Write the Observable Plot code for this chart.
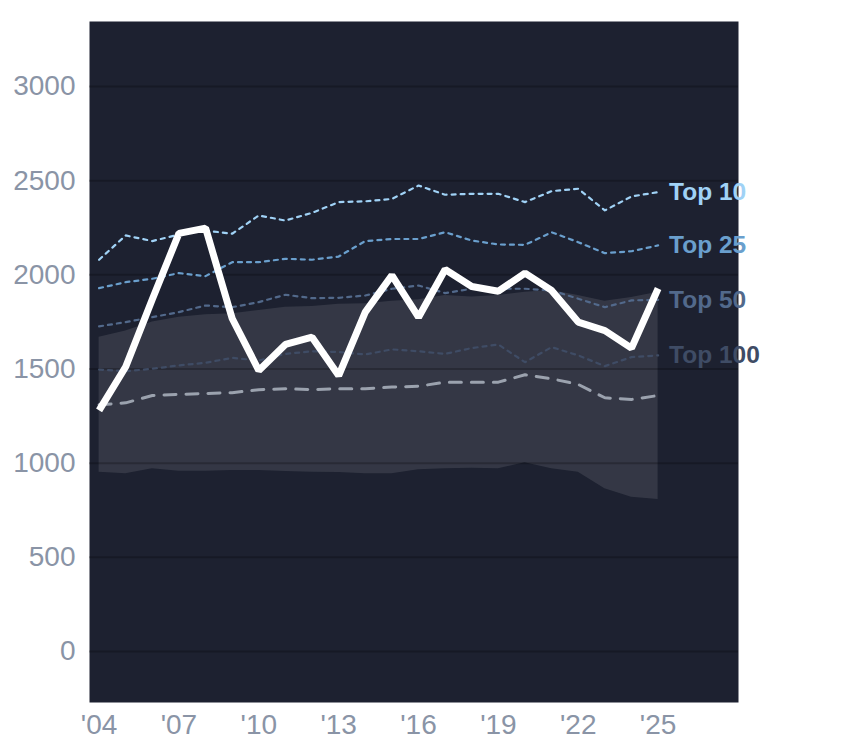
<!DOCTYPE html>
<html>
<head>
<meta charset="utf-8">
<script src="https://cdn.jsdelivr.net/npm/d3@7"></script>
<script src="https://cdn.jsdelivr.net/npm/@observablehq/plot@0.6"></script>
<style>
  html, body { margin: 0; padding: 0; background: #ffffff; }
  #chart svg { display: block; }
</style>
</head>
<body>
<div id="chart"></div>
<script>
const years = d3.range(2004, 2026);
const highlight = [1280, 1512, 1870, 2220, 2248, 1768, 1492, 1630, 1669, 1465, 1802, 1997, 1775, 2028, 1938, 1913, 2009, 1917, 1749, 1704, 1611, 1927];
const top10 = [2080, 2209, 2179, 2214, 2235, 2218, 2315, 2288, 2329, 2386, 2390, 2403, 2474, 2425, 2430, 2430, 2386, 2444, 2457, 2342, 2416, 2439];
const top25 = [1929, 1961, 1979, 2009, 1993, 2067, 2067, 2085, 2080, 2097, 2179, 2190, 2190, 2226, 2182, 2161, 2159, 2226, 2173, 2115, 2125, 2156];
const top50 = [1726, 1749, 1775, 1802, 1837, 1828, 1855, 1894, 1876, 1878, 1890, 1926, 1943, 1903, 1926, 1926, 1926, 1917, 1873, 1828, 1864, 1867];
const top100 = [1497, 1488, 1501, 1519, 1533, 1559, 1545, 1580, 1594, 1590, 1577, 1604, 1594, 1580, 1611, 1630, 1536, 1616, 1572, 1515, 1563, 1572];
const median = [1310, 1320, 1359, 1365, 1370, 1374, 1390, 1395, 1390, 1395, 1395, 1404, 1408, 1430, 1430, 1430, 1469, 1448, 1418, 1347, 1338, 1359];
const bandHigh = [1669, 1701, 1749, 1775, 1788, 1793, 1811, 1828, 1832, 1843, 1846, 1860, 1867, 1890, 1882, 1890, 1908, 1917, 1890, 1860, 1879, 1908];
const bandLow = [952, 943, 970, 957, 957, 961, 961, 955, 952, 950, 943, 943, 965, 970, 973, 970, 1002, 970, 952, 864, 819, 807];
const yTicks = [0, 500, 1000, 1500, 2000, 2500, 3000];
const xTicks = [2004, 2007, 2010, 2013, 2016, 2019, 2022, 2025];

const tiers = [
  {name: "Top 100", values: top100, color: "#3f4c65"},
  {name: "Top 50", values: top50, color: "#52698b"},
  {name: "Top 25", values: top25, color: "#6a9fcd"},
  {name: "Top 10", values: top10, color: "#a0d2f6"}
];

const rows = years.map((year, i) => ({
  year, highlight: highlight[i], median: median[i], low: bandLow[i], high: bandHigh[i]
}));
const tierRows = tiers.flatMap(t => years.map((year, i) => ({year, value: t.values[i], tier: t.name, color: t.color})));
const lastYear = years[years.length - 1];
const labelRows = tiers.map(t => ({year: lastYear, value: t.values[t.values.length - 1], tier: t.name, color: t.color}));

const tickColor = "#8a94a6";

const chart = Plot.plot({
  width: 844,
  height: 748,
  marginLeft: 89,
  marginRight: 106,
  marginTop: 21,
  marginBottom: 46,
  style: {background: "#ffffff", fontFamily: "'Liberation Sans', Arial, sans-serif", overflow: "visible"},
  x: {domain: [2003.64, 2028.02], label: null},
  y: {domain: [-271, 3345], label: null},
  marks: [
    Plot.frame({fill: "#1d2130", stroke: null}),
    Plot.areaY(rows, {x: "year", y1: "low", y2: "high", fill: "#ffffff", fillOpacity: 0.1, curve: "linear"}),
    Plot.ruleY(yTicks, {stroke: "#000000", strokeOpacity: 0.22, strokeWidth: 2}),
    ...tiers.map(t => Plot.line(tierRows.filter(d => d.tier === t.name), {
      x: "year", y: "value", stroke: t.color, strokeWidth: 2.2, strokeDasharray: "4,5"
    })),
    Plot.line(rows, {x: "year", y: "median", stroke: "#9ba2ae", strokeWidth: 3, strokeDasharray: "12,10"}),
    Plot.line(rows, {x: "year", y: "highlight", stroke: "#ffffff", strokeWidth: 7, strokeLinejoin: "miter", strokeLinecap: "butt"}),
    Plot.text(labelRows, {x: "year", y: "value", text: "tier", fill: "color", dx: 11, textAnchor: "start", fontSize: 24.5, fontWeight: "bold", lineAnchor: "middle"}),
    Plot.axisY(yTicks, {tickSize: 0, tickPadding: 14, fontSize: 28, fill: tickColor, tickFormat: d => String(d), label: null}),
    Plot.axisX(xTicks, {tickSize: 0, tickPadding: 12, fontSize: 28, fill: tickColor, tickFormat: d => "'" + String(d).slice(2), label: null})
  ]
});
document.getElementById("chart").appendChild(chart);
</script>
</body>
</html>
